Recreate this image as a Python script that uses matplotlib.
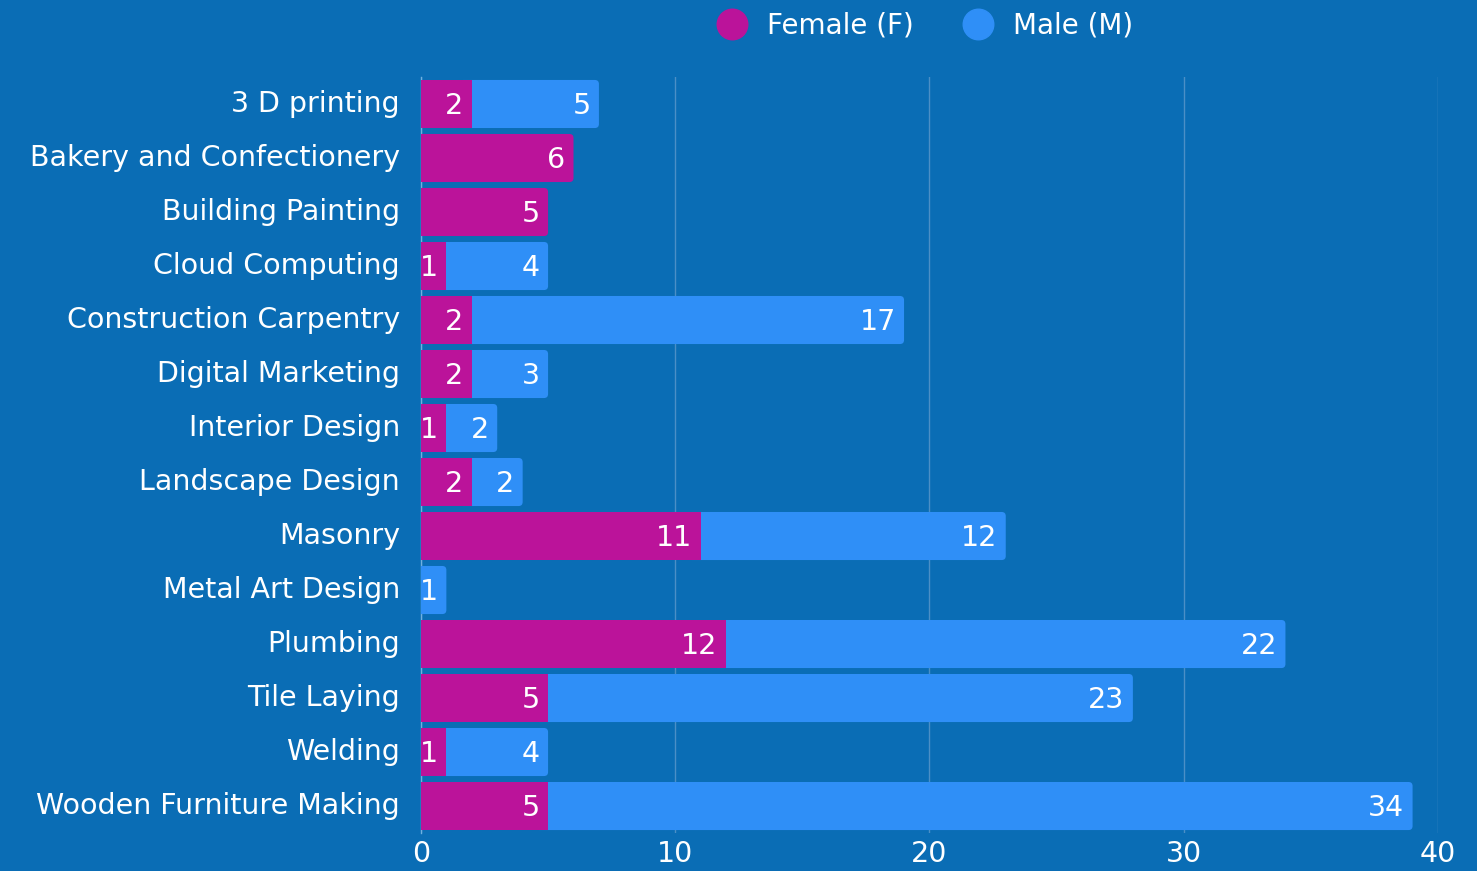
import matplotlib
matplotlib.use("Agg")
import matplotlib.pyplot as plt
import matplotlib.transforms as mtransforms
from matplotlib.lines import Line2D
from matplotlib.patches import FancyBboxPatch

categories = ["3 D printing", "Bakery and Confectionery", "Building Painting", "Cloud Computing",
              "Construction Carpentry", "Digital Marketing", "Interior Design", "Landscape Design",
              "Masonry", "Metal Art Design", "Plumbing", "Tile Laying", "Welding",
              "Wooden Furniture Making"]
female = [2, 6, 5, 1, 2, 2, 1, 2, 11, 0, 12, 5, 1, 5]
male = [5, 0, 0, 4, 17, 3, 2, 2, 12, 1, 22, 23, 4, 34]
xticks = [0, 10, 20, 30, 40]

BG = "#0a6db5"
F_COL = "#bb139a"
M_COL = "#2f8ff7"
GRID = "#4b8fc6"
FONT = ["DejaVu Sans"]
FS = 20.5

plt.rcParams['font.family'] = FONT

fig = plt.figure(figsize=(14.77, 8.71), dpi=100, facecolor=BG)
ax = fig.add_axes([0.285, 0.0436, 0.9736 - 0.285, 0.9116 - 0.0436])
ax.set_facecolor(BG)

y = list(range(len(categories)))
h = 0.89
rad = 0.16
asp = 0.47
for i in y:
    f, m = female[i], male[i]
    total = f + m
    end_col = M_COL if m > 0 else F_COL
    start = (f if m > 0 else 0) - 0.5
    p = FancyBboxPatch((start, i - h / 2), total - start, h,
                       boxstyle=f"round,pad=0,rounding_size={rad}", mutation_aspect=asp,
                       facecolor=end_col, edgecolor="none", zorder=3)
    ax.add_patch(p)
    if m > 0 and f > 0:
        ax.barh(i, f, height=h, color=F_COL, zorder=3.5)

for i in y:
    if female[i] > 0:
        ax.annotate(str(female[i]), (female[i], i), xytext=(-6, -1.5), textcoords="offset points",
                    ha="right", va="center", color="white", fontsize=FS, zorder=4)
    if male[i] > 0:
        ax.annotate(str(male[i]), (female[i] + male[i], i), xytext=(-6, -1.5), textcoords="offset points",
                    ha="right", va="center", color="white", fontsize=FS, zorder=4)

ax.set_xlim(0, 40)
ax.set_ylim(len(categories) - 0.5, -0.5)
ax.set_xticks(xticks)
ax.set_xticklabels([str(t) for t in xticks])
ax.set_yticks(y)
ax.set_yticklabels(categories)
ax.tick_params(axis="both", length=0, colors="white", labelsize=FS)
ax.tick_params(axis="y", pad=15)
ax.tick_params(axis="x", pad=5)
shift = mtransforms.ScaledTranslation(0, 3 / 100, fig.dpi_scale_trans)
for t in ax.get_yticklabels():
    t.set_transform(t.get_transform() + shift)
ax.xaxis.grid(True, color=GRID, linewidth=1, zorder=0)
ax.set_axisbelow(True)
for s in ["top", "right", "bottom"]:
    ax.spines[s].set_visible(False)
ax.spines["left"].set_color("#6fb0e0")
ax.spines["left"].set_linewidth(1)
ax.spines["left"].set_zorder(2)

handles = [Line2D([0], [0], marker="o", linestyle="", markersize=22, markerfacecolor=F_COL,
                  markeredgecolor=F_COL, label="Female (F)"),
           Line2D([0], [0], marker="o", linestyle="", markersize=22, markerfacecolor=M_COL,
                  markeredgecolor=M_COL, label="Male (M)")]
leg = fig.legend(handles=handles, loc="center", bbox_to_anchor=(0.622, 0.971), ncol=2, frameon=False,
                 fontsize=20, handletextpad=0.25, columnspacing=1.3, labelcolor="white")

fig.savefig("out.png", dpi=100, facecolor=BG)
